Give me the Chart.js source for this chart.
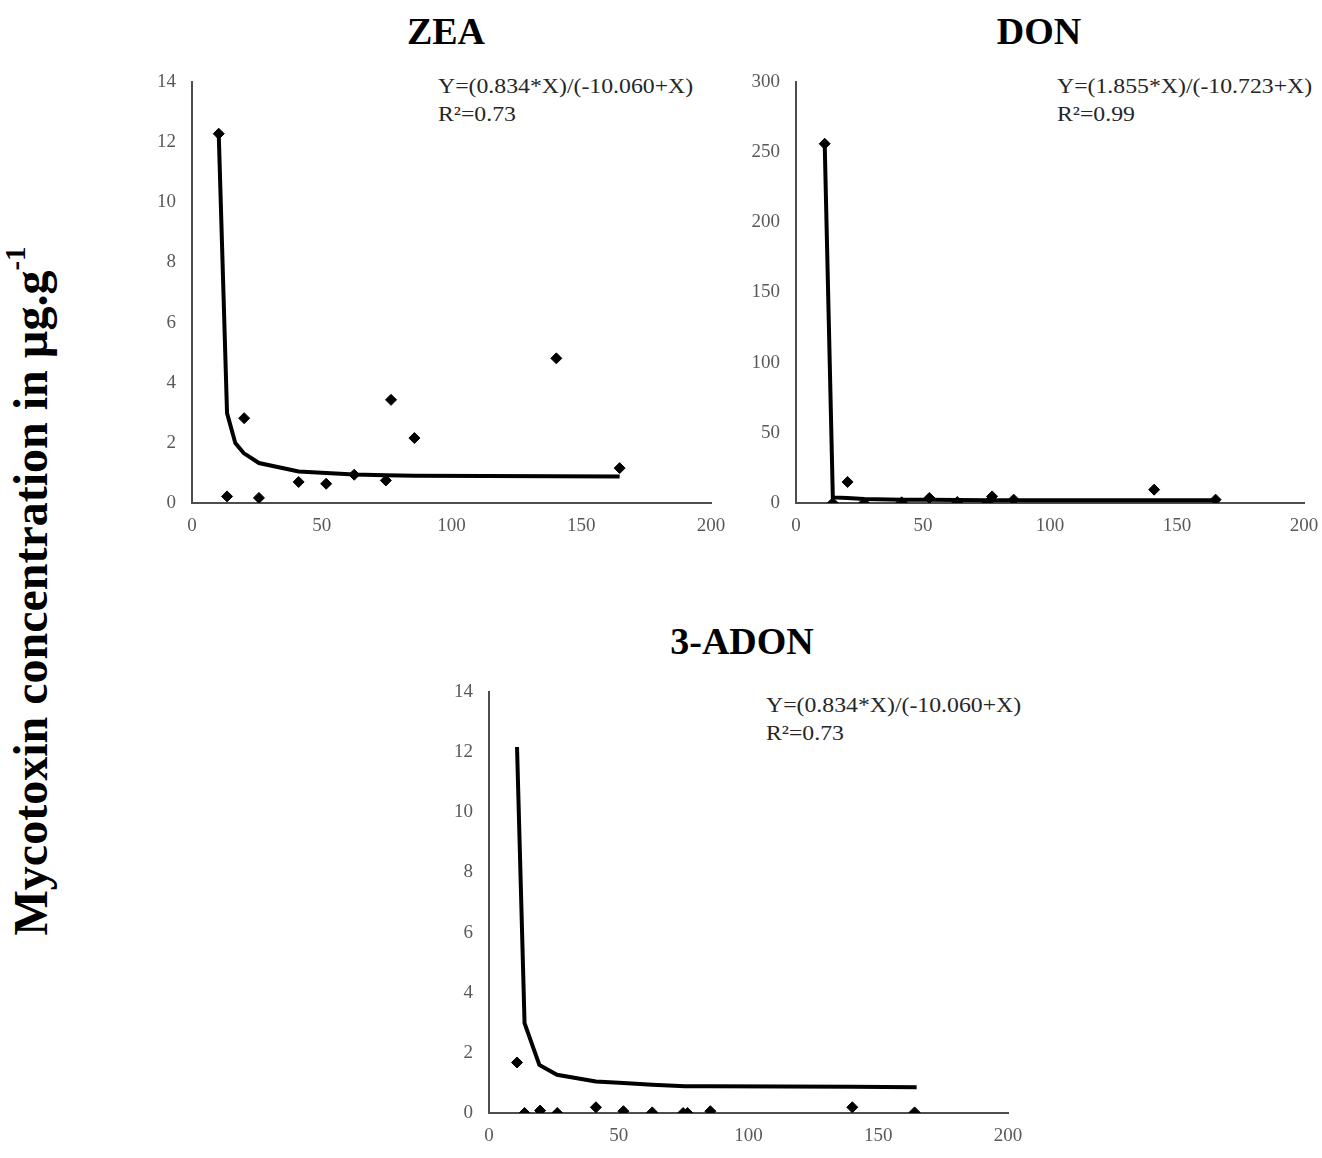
<!DOCTYPE html>
<html>
<head>
<meta charset="utf-8">
<script src="https://cdn.jsdelivr.net/npm/chart.js@4/dist/chart.umd.min.js"></script>
<style>
  html, body { margin: 0; padding: 0; background: #ffffff; overflow: hidden; }
  body { width: 1322px; height: 1158px; position: relative; font-family: "Liberation Serif", "Times New Roman", serif; }
  canvas { position: absolute; }
  .title { position: absolute; font-weight: bold; font-size: 38px; line-height: 38px; color: #000; white-space: nowrap; transform: translateX(-50%); }
  .eq { position: absolute; font-size: 22px; line-height: 28px; color: #262626; white-space: nowrap; transform-origin: 0 0; transform: scaleX(1.08); }
  .ylab { position: absolute; left: 34px; top: 591px; font-weight: bold; font-size: 48px; line-height: 48px; color: #000; white-space: nowrap; transform: translate(-50%, -50%) rotate(-90deg); }
  .ylab span { font-size: 0.6em; position: relative; top: -0.75em; }
</style>
</head>
<body>
<div class="ylab">Mycotoxin concentration in µg.g<span>-1</span></div>

<div class="title" style="left:446px; top:12px;">ZEA</div>
<div class="title" style="left:1039px; top:12px;">DON</div>
<div class="title" style="left:742px; top:622px;">3-ADON</div>

<div class="eq" style="left:438px; top:72px;">Y=(0.834*X)/(-10.060+X)<br>R²=0.73</div>
<div class="eq" style="left:1057px; top:72px;">Y=(1.855*X)/(-10.723+X)<br>R²=0.99</div>
<div class="eq" style="left:766px; top:691px;">Y=(0.834*X)/(-10.060+X)<br>R²=0.73</div>

<canvas id="zea" width="610" height="510" style="left:130px; top:40px;"></canvas>
<canvas id="don" width="594" height="510" style="left:740px; top:40px;"></canvas>
<canvas id="adon" width="620" height="505" style="left:425px; top:650px;"></canvas>

<script>
// ZEA: measured concentrations and fitted curve
const zeaX = [10.3, 13.5, 20.1, 25.8, 41.1, 51.7, 62.5, 74.7, 76.7, 85.7, 140.4, 164.8];
const zeaY = [12.28, 0.22, 2.82, 0.17, 0.70, 0.64, 0.94, 0.75, 3.43, 2.16, 4.81, 1.16];
const zeaFitX = [10.3, 13.5, 16.7, 19.9, 25.8, 41.1, 51.7, 62.5, 74.7, 85.7, 140.4, 164.8];
const zeaFitY = [12.28, 2.99, 1.99, 1.66, 1.33, 1.05, 1.00, 0.95, 0.92, 0.91, 0.89, 0.88];

// DON
const donX = [11.3, 14.5, 20.3, 26.8, 41.6, 52.5, 63.5, 75.4, 77.2, 85.7, 141.0, 165.2];
const donY = [256, 0, 15, 0, 0.5, 3.6, 0.7, 0, 4.7, 2.4, 9.5, 2.4];
const donFitX = [11.3, 14.5, 20.3, 26.8, 41.6, 52.5, 63.5, 75.4, 85.7, 141.0, 165.2];
const donFitY = [256, 4.0, 3.5, 2.8, 2.4, 2.3, 2.1, 2.0, 2.0, 1.9, 1.9];

// 3-ADON
const adonX = [10.8, 13.7, 19.7, 26.3, 41.2, 51.8, 62.9, 74.8, 76.5, 85.3, 140.0, 164.0];
const adonY = [1.68, 0, 0.08, 0, 0.19, 0.06, 0.02, 0, 0, 0.06, 0.19, 0.02];
const adonFitX = [10.8, 13.7, 19.4, 26.2, 41.2, 51.8, 62.9, 75.5, 85.3, 140.0, 164.8];
const adonFitY = [12.17, 2.99, 1.60, 1.27, 1.05, 1.00, 0.94, 0.89, 0.89, 0.87, 0.86];

// shared axis settings
const xTickMax = 200, xTickStep = 50;

function pts(xs, ys) { return xs.map((x, i) => ({ x: x, y: ys[i] })); }

const tickFont = { family: "'Liberation Serif', 'Times New Roman', serif", size: 19 };
const tickColor = '#595959';
const axisColor = '#4d4d4d';

function makeChart(id, xs, ys, fx, fy, yMax, yStep, pad) {
  new Chart(document.getElementById(id), {
    type: 'scatter',
    data: {
      datasets: [
        {
          data: pts(xs, ys),
          pointStyle: 'rectRot',
          pointRadius: 5.5,
          pointBackgroundColor: '#000',
          pointBorderColor: '#000',
          pointBorderWidth: 1,
          showLine: false
        },
        {
          data: pts(fx, fy),
          showLine: true,
          borderColor: '#000',
          borderWidth: 4,
          pointRadius: 0,
          tension: 0,
          fill: false
        }
      ]
    },
    options: {
      responsive: false,
      animation: false,
      devicePixelRatio: 1,
      layout: { padding: pad },
      plugins: { legend: { display: false }, tooltip: { enabled: false }, title: { display: false } },
      scales: {
        x: {
          type: 'linear',
          min: 0, max: xTickMax,
          grid: { display: false, drawTicks: false },
          border: { display: true, color: axisColor, width: 2 },
          ticks: { stepSize: xTickStep, font: tickFont, color: tickColor, padding: 12, maxRotation: 0 },
          afterFit: (s) => { s.height = 30; }
        },
        y: {
          type: 'linear',
          min: 0, max: yMax,
          grid: { display: false, drawTicks: false },
          border: { display: true, color: axisColor, width: 2 },
          ticks: { stepSize: yStep, font: tickFont, color: tickColor, padding: 16 },
          afterFit: (s) => { s.width = 52; }
        }
      }
    }
  });
}

makeChart('zea', zeaX, zeaY, zeaFitX, zeaFitY, 14, 2, { left: 10, top: 42, right: 29, bottom: 17 });
makeChart('don', donX, donY, donFitX, donFitY, 300, 50, { left: 4, top: 42, right: 30, bottom: 17 });
makeChart('adon', adonX, adonY, adonFitX, adonFitY, 14, 2, { left: 12, top: 42, right: 37, bottom: 12 });
</script>
</body>
</html>
